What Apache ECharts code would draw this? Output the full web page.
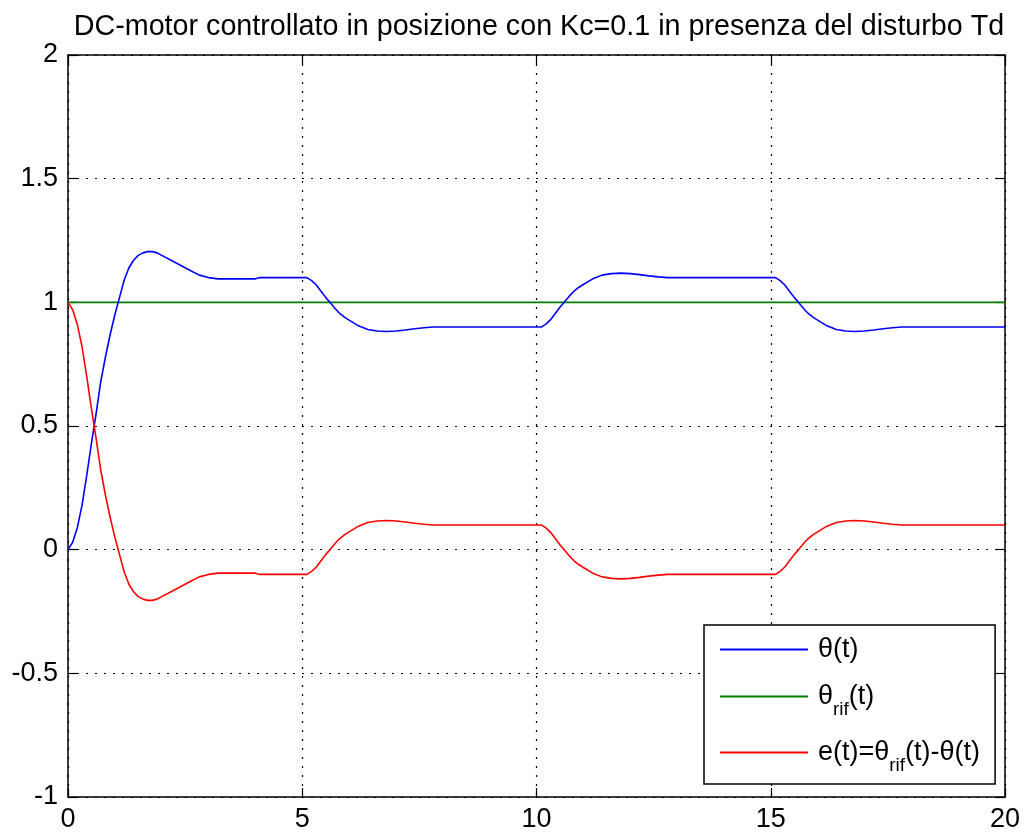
<!DOCTYPE html>
<html>
<head>
<meta charset="utf-8">
<script src="https://cdn.jsdelivr.net/npm/echarts@6/dist/echarts.min.js"></script>
<style>
  html, body { margin: 0; padding: 0; background: #fff; }
  #chart { width: 1029px; height: 834px; }
</style>
</head>
<body>
<div id="chart"></div>
<script>
// Sample instants (s)
const time = [
  0, 0.1, 0.2, 0.3, 0.4, 0.5, 0.6, 0.7, 0.8, 0.9, 1.0, 1.1, 1.2, 1.3, 1.4, 1.5, 1.6, 1.7, 1.8, 1.9,
  2.0, 2.2, 2.4, 2.6, 2.8, 3.0, 3.2, 3.6, 4.0, 4.1, 4.5, 5.0,
  5.1, 5.2, 5.3, 5.4, 5.5, 5.6, 5.7, 5.8, 5.9, 6.0, 6.2, 6.4, 6.6, 6.8, 7.0, 7.2, 7.4, 7.6, 7.8, 8.0, 9.0, 10.0,
  10.1, 10.2, 10.3, 10.4, 10.5, 10.6, 10.7, 10.8, 10.9, 11.0, 11.2, 11.4, 11.6, 11.8, 12.0, 12.2, 12.4, 12.6, 12.8, 13.0, 14.0, 15.0,
  15.1, 15.2, 15.3, 15.4, 15.5, 15.6, 15.7, 15.8, 15.9, 16.0, 16.2, 16.4, 16.6, 16.8, 17.0, 17.2, 17.4, 17.6, 17.8, 18.0, 19.0, 20.0
];

// Motor angular position theta(t)
const theta = [
  0, 0.03, 0.09, 0.18, 0.30, 0.43, 0.55, 0.68, 0.78, 0.87, 0.95, 1.02, 1.09, 1.14, 1.17, 1.19, 1.20, 1.205, 1.205, 1.20,
  1.19, 1.17, 1.15, 1.13, 1.11, 1.10, 1.095, 1.095, 1.095, 1.10, 1.10, 1.10,
  1.10, 1.088, 1.07, 1.045, 1.02, 0.998, 0.975, 0.955, 0.94, 0.928, 0.905, 0.89, 0.884, 0.882, 0.884, 0.888, 0.893, 0.897, 0.90, 0.90, 0.90, 0.90,
  0.90, 0.912, 0.93, 0.955, 0.98, 1.002, 1.025, 1.045, 1.06, 1.072, 1.095, 1.11, 1.116, 1.118, 1.116, 1.112, 1.107, 1.103, 1.10, 1.10, 1.10, 1.10,
  1.10, 1.088, 1.07, 1.045, 1.02, 0.998, 0.975, 0.955, 0.94, 0.928, 0.905, 0.89, 0.884, 0.882, 0.884, 0.888, 0.893, 0.897, 0.90, 0.90, 0.90, 0.90
];

// Reference position theta_rif(t)
const thetaRif = time.map(() => 1);

// Tracking error e(t)
const error = [
  1, 0.97, 0.91, 0.82, 0.70, 0.57, 0.45, 0.32, 0.22, 0.13, 0.05, -0.02, -0.09, -0.14, -0.17, -0.19, -0.20, -0.205, -0.205, -0.20,
  -0.19, -0.17, -0.15, -0.13, -0.11, -0.10, -0.095, -0.095, -0.095, -0.10, -0.10, -0.10,
  -0.10, -0.088, -0.07, -0.045, -0.02, 0.002, 0.025, 0.045, 0.06, 0.072, 0.095, 0.11, 0.116, 0.118, 0.116, 0.112, 0.107, 0.103, 0.10, 0.10, 0.10, 0.10,
  0.10, 0.088, 0.07, 0.045, 0.02, -0.002, -0.025, -0.045, -0.06, -0.072, -0.095, -0.11, -0.116, -0.118, -0.116, -0.112, -0.107, -0.103, -0.10, -0.10, -0.10, -0.10,
  -0.10, -0.088, -0.07, -0.045, -0.02, 0.002, 0.025, 0.045, 0.06, 0.072, 0.095, 0.11, 0.116, 0.118, 0.116, 0.112, 0.107, 0.103, 0.10, 0.10, 0.10, 0.10
];

const seriesNames = ['theta', 'thetaRif', 'error'];
const xTicks = { min: 0, max: 20, interval: 5 };
const yTicks = { min: -1, max: 2, interval: 0.5 };

const FONT = "'Liberation Sans', Arial, Helvetica, sans-serif";

function pairs(values) {
  return time.map((t, i) => [t, values[i]]);
}

const chart = echarts.init(document.getElementById('chart'), null, { renderer: 'canvas' });

const dotted = { show: true, lineStyle: { color: '#000', width: 1.2, type: [2, 7] } };
const frameLine = { show: true, onZero: false, lineStyle: { color: '#000', width: 1.5 } };
const innerTick = { show: true, inside: true, length: 9, lineStyle: { color: '#000', width: 1.2 } };

const legendLabels = {
  theta: '{a|θ(t)}',
  thetaRif: '{a|θ}{s|rif}{a|(t)}',
  error: '{a|e(t)=θ}{s|rif}{a|(t)-θ(t)}'
};

chart.setOption({
  animation: false,
  backgroundColor: '#fff',
  textStyle: { fontFamily: FONT },
  title: {
    text: 'DC-motor controllato in posizione con Kc=0.1 in presenza del disturbo Td',
    left: 534, top: 8, textAlign: 'center',
    textStyle: { fontFamily: FONT, fontSize: 28.7, fontWeight: 'normal', color: '#000' }
  },
  grid: { left: 68, right: 24, top: 55, bottom: 37, containLabel: false },
  xAxis: [
    {
      type: 'value', position: 'bottom', ...xTicks,
      axisLine: frameLine, axisTick: innerTick, splitLine: dotted,
      axisLabel: { color: '#000', fontSize: 27, fontFamily: FONT, margin: 9 }
    },
    {
      type: 'value', position: 'top', ...xTicks,
      axisLine: frameLine, axisTick: innerTick, splitLine: { show: false },
      axisLabel: { show: false }
    }
  ],
  yAxis: [
    {
      type: 'value', position: 'left', ...yTicks,
      axisLine: frameLine, axisTick: innerTick, splitLine: dotted,
      axisLabel: { color: '#000', fontSize: 27, fontFamily: FONT, margin: 10 }
    },
    {
      type: 'value', position: 'right', ...yTicks,
      axisLine: frameLine, axisTick: innerTick, splitLine: { show: false },
      axisLabel: { show: false }
    }
  ],
  legend: {
    orient: 'vertical',
    left: 704, top: 625,
    padding: [11, 15, 9, 16],
    itemGap: 20,
    itemWidth: 88, itemHeight: 2,
    icon: 'rect',
    backgroundColor: '#fff',
    borderColor: '#000', borderWidth: 1.5, borderRadius: 0,
    data: seriesNames,
    formatter: name => legendLabels[name],
    textStyle: {
      color: '#000', fontFamily: FONT, padding: [0, 0, 0, 5],
      rich: {
        a: { fontSize: 27, fontFamily: FONT, color: '#000', lineHeight: 28, verticalAlign: 'middle' },
        s: { fontSize: 19, fontFamily: FONT, color: '#000', padding: [26, 0, 0, 0], verticalAlign: 'bottom' }
      }
    }
  },
  series: [
    {
      name: 'theta', type: 'line', data: pairs(theta), showSymbol: false, symbol: 'none',
      lineStyle: { color: '#0000ff', width: 1.6 }, itemStyle: { color: '#0000ff' }, z: 3
    },
    {
      name: 'thetaRif', type: 'line', data: pairs(thetaRif), showSymbol: false, symbol: 'none',
      lineStyle: { color: '#008000', width: 1.6 }, itemStyle: { color: '#008000' }, z: 2
    },
    {
      name: 'error', type: 'line', data: pairs(error), showSymbol: false, symbol: 'none',
      lineStyle: { color: '#ff0000', width: 1.6 }, itemStyle: { color: '#ff0000' }, z: 3
    }
  ]
});
</script>
</body>
</html>
